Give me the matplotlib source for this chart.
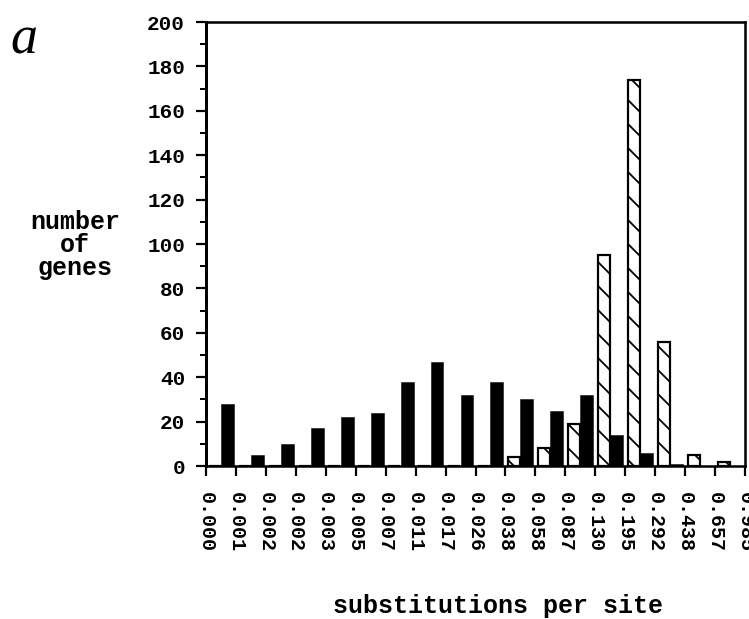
import numpy as np
import matplotlib
matplotlib.use('Agg')
import matplotlib.pyplot as plt

# bin edges shown under the axis (substitutions per site)
edge_labels = ['0.000', '0.001', '0.002', '0.002', '0.003', '0.005', '0.007',
               '0.011', '0.017', '0.026', '0.038', '0.058', '0.087', '0.130',
               '0.195', '0.292', '0.438', '0.657', '0.985']

# number of genes per bin
solid_counts = [28, 5, 10, 17, 22, 24, 38, 47, 32, 38, 30, 25, 32, 14, 6, 1, 0, 0]
hatched_counts = [0, 0, 0, 0, 0, 0, 0, 0, 0, 0, 4, 8, 19, 95, 174, 56, 5, 2]

mono = 'Liberation Mono'
plt.rcParams['hatch.linewidth'] = 1.8

fig = plt.figure(figsize=(749 / 72, 619 / 72), dpi=72)
ax = fig.add_axes([206 / 749, 1 - 466 / 619, 539 / 749, 444 / 619])

nbins = len(solid_counts)
x = np.arange(nbins)

# hatched bars sit on the left half of each bin, solid ones on the right
ax.bar(x + 0.09, hatched_counts, width=0.40, align='edge', color='white',
       edgecolor='black', linewidth=2.2, hatch='\\')
ax.bar(x + 0.50, solid_counts, width=0.43, align='edge', color='black',
       edgecolor='black', linewidth=0.5)

ax.set_xlim(0, nbins)
ax.set_ylim(0, 200)

ax.set_xticks(np.arange(nbins + 1))
ax.set_xticklabels(edge_labels, rotation=-90, fontfamily=mono,
                   fontweight='bold', fontsize=20)
ax.set_yticks(np.arange(0, 201, 20))
ax.set_yticks(np.arange(10, 200, 20), minor=True)
for lbl in ax.get_yticklabels():
    lbl.set_fontfamily(mono)
    lbl.set_fontweight('bold')
    lbl.set_fontsize(21)

ax.tick_params(axis='both', which='major', direction='out', length=10,
               width=2.2)
ax.tick_params(axis='y', which='major', pad=11)
ax.tick_params(axis='y', which='minor', direction='out', length=6, width=2)
ax.tick_params(axis='x', pad=16)

for side in ['left', 'right', 'top', 'bottom']:
    ax.spines[side].set_linewidth(2.5)
ax.spines['left'].set_linewidth(3)

fig.text(75 / 749, 1 - 245 / 619, 'number\nof\ngenes', ha='center',
         va='center', fontfamily=mono, fontweight='bold', fontsize=25,
         linespacing=0.95)
fig.text(498 / 749, 1 - 606 / 619, 'substitutions per site', ha='center',
         va='center', fontfamily=mono, fontweight='bold', fontsize=25)
fig.text(10 / 749, 1 - 40 / 619, 'a', ha='left', va='center',
         fontfamily='Liberation Serif', fontstyle='italic', fontsize=54)

fig.savefig('out.png', dpi=72)
